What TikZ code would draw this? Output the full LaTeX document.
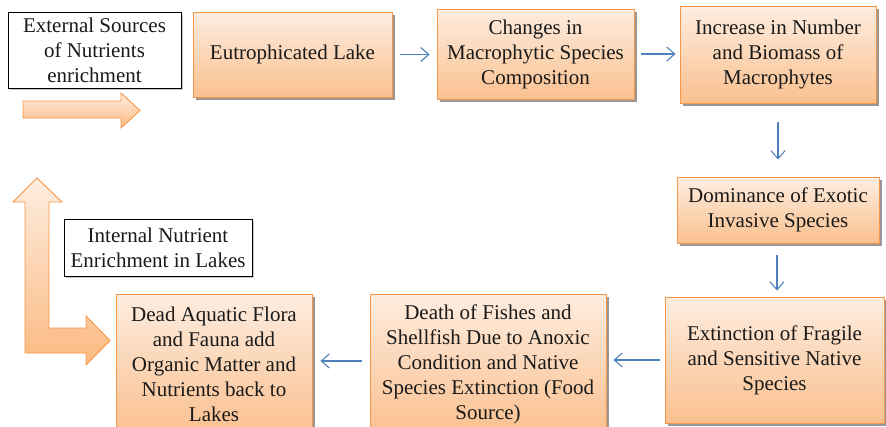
\documentclass[tikz,border=0pt]{standalone}
\usepackage{fontspec}
\setmainfont{LiberationSerif}[Extension=.ttf, UprightFont=*-Regular,
  BoldFont=*-Bold, ItalicFont=*-Italic, BoldItalicFont=*-BoldItalic]
\usetikzlibrary{arrows.meta,shadows}

\definecolor{boxedge}{HTML}{F79646}
\definecolor{boxtop}{HTML}{FEEDE0}
\definecolor{boxbottom}{HTML}{FAC08F}
\definecolor{flowblue}{HTML}{4F81BD}
\definecolor{ink}{HTML}{1A1A1A}

\tikzset{
  stage/.style={draw=boxedge, line width=0.9pt, top color=boxtop, bottom color=boxbottom,
    drop shadow={shadow xshift=3pt, shadow yshift=-3pt, fill=black!45, opacity=0.9},
    align=center, inner sep=2pt, text=ink,
    font=\rmfamily\fontsize{21}{25}\selectfont},
  note/.style={draw=black, line width=0.7pt, fill=white,
    drop shadow={shadow xshift=1.5pt, shadow yshift=-1.5pt, fill=black!30, opacity=0.7},
    align=center, inner sep=2pt, text=ink,
    font=\rmfamily\fontsize{21}{25}\selectfont},
  flow/.style={draw=flowblue, line width=1.1pt,
    -{Straight Barb[length=8pt,width=14pt,line width=1.1pt]}},
  bigarrow/.style={draw=boxedge, line width=0.9pt, top color=boxtop, bottom color=boxbottom!90!orange}
}

\begin{document}
\begin{tikzpicture}[x=1pt,y=-1pt]
  \useasboundingbox (0,0) rectangle (886,426);
  \clip (0,0) rectangle (886,426);

  % thick arrow feeding the lake from outside
  \shade[bigarrow] (23,101) -- (121,101) -- (121,93) -- (140,110.5)
     -- (121,128) -- (121,118) -- (23,118) -- cycle;

  % L-shaped arrow for the internal nutrient loop
  \shade[bigarrow] (13,202) -- (37,178) -- (62,202) -- (49,202) -- (49,328)
     -- (86,328) -- (86,316) -- (110,340.5) -- (86,365) -- (86,353)
     -- (25,353) -- (25,202) -- cycle;

  % white label boxes
  \node[note, minimum width=173pt, minimum height=76pt] (ext) at (94.5,50)
    {External Sources\\of Nutrients\\enrichment};
  \node[note, minimum width=188pt, minimum height=57pt] (int) at (158,247.5)
    {Internal Nutrient\\Enrichment in Lakes};

  % process stages
  \node[stage, minimum width=199pt, minimum height=85pt] (eut) at (292.5,54.5)
    {Eutrophicated Lake};
  \node[stage, minimum width=197pt, minimum height=90pt] (chg) at (535.5,54)
    {Changes in\\Macrophytic Species\\Composition};
  \node[stage, minimum width=196pt, minimum height=97pt] (inc) at (778,54.5)
    {Increase in Number\\and Biomass of\\Macrophytes};
  \node[stage, minimum width=202pt, minimum height=66pt] (dom) at (778,210)
    {Dominance of Exotic\\Invasive Species};
  \node[stage, minimum width=219pt, minimum height=126pt] (extn) at (774.5,360)
    {Extinction of Fragile\\and Sensitive Native\\Species};
  \node[stage, minimum width=236pt, minimum height=140pt] (death) at (488,364)
    {Death of Fishes and\\Shellfish Due to Anoxic\\Condition and Native\\Species Extinction (Food\\Source)};
  \node[stage, minimum width=196pt, minimum height=140pt] (dead) at (214,364)
    {Dead Aquatic Flora\\and Fauna add\\Organic Matter and\\Nutrients back to\\Lakes};

  % flow between stages
  \draw[flow, shorten <=8pt, shorten >=7pt] (eut.east) -- (chg.west |- eut.east);
  \draw[flow, shorten <=7pt, shorten >=4pt] (chg.east) -- (inc.west |- chg.east);
  \draw[flow, shorten <=19pt, shorten >=17pt] (inc.south) -- (dom.north);
  \draw[flow, shorten <=12pt, shorten >=6pt] (dom.south -| 777,0) -- (extn.north -| 777,0);
  \draw[flow, shorten <=5pt, shorten >=7pt] (extn.west) -- (death.east |- extn.west);
  \draw[flow, shorten <=8pt, shorten >=8pt] (death.west |- 0,361) -- (dead.east |- 0,361);
\end{tikzpicture}
\end{document}
